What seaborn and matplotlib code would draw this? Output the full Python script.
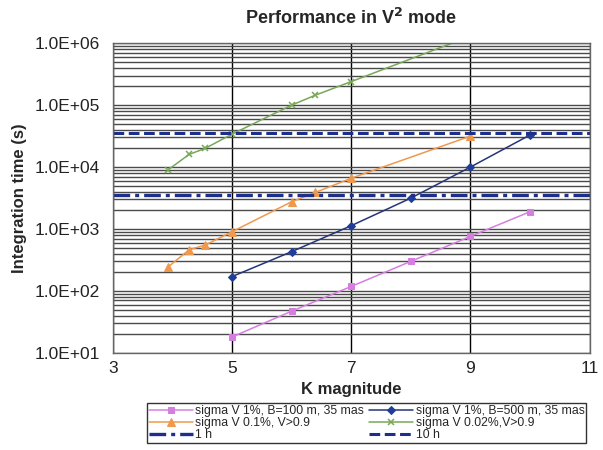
import numpy as np
import pandas as pd
import seaborn as sns
import matplotlib.pyplot as plt
from matplotlib.ticker import FuncFormatter, LogLocator, FixedLocator

# Data
k_pink = [5, 6, 7, 8, 9, 10]
t_pink = [18, 47, 118, 300, 760, 1900]

k_blue = [5, 6, 7, 8, 9, 10]
t_blue = [170, 430, 1130, 3150, 10000, 33000]

k_orange = [3.92, 4.28, 4.55, 5, 6, 6.4, 7, 9]
t_orange = [240, 460, 550, 900, 2750, 3900, 6600, 31600]

k_green = [3.92, 4.28, 4.55, 5, 6, 6.4, 7, 9]
t_green = [8900, 16000, 20000, 34000, 100000, 145000, 240000, 1300000]

t_1h = 3600
t_10h = 36000

labels = ['sigma V 1%, B=100 m, 35 mas', 'sigma V 1%, B=500 m, 35 mas',
          'sigma V 0.1%, V>0.9', 'sigma V 0.02%,V>0.9', '1 h', '10 h']

sns.set_style('white')
plt.rcParams['font.family'] = ['Liberation Sans', 'DejaVu Sans']

fig = plt.figure(figsize=(6.03, 4.5), dpi=100)
ax = fig.add_axes([0.187, 0.216, 0.791, 0.688])

navy = '#1d2f8a'
pink, blue, orange, green = '#d67ee0', '#1f3d9c', '#f0984c', '#77a857'

# seaborn puts white edges on markers by default, so set them explicitly
sns.lineplot(x=k_pink, y=t_pink, ax=ax, color=pink, marker='s', markersize=5,
             markeredgecolor=pink, linewidth=1.1, label=labels[0])
sns.lineplot(x=k_blue, y=t_blue, ax=ax, color='#24357a', marker='D', markersize=4.5,
             markerfacecolor=blue, markeredgecolor=blue, linewidth=1.1, label=labels[1])
sns.lineplot(x=k_orange, y=t_orange, ax=ax, color=orange, marker='^', markersize=5.5,
             markeredgecolor=orange, linewidth=1.1, label=labels[2])
sns.lineplot(x=k_green, y=t_green, ax=ax, color=green, marker='x', markersize=5,
             markeredgecolor=green, markeredgewidth=1.1, linewidth=1.1, label=labels[3])
ax.axhline(t_1h, color=navy, linestyle=(0, (5, 1.5, 1.2, 1.5)), linewidth=2.4, label=labels[4])
ax.axhline(t_10h, color=navy, linestyle=(0, (3.5, 1.5)), linewidth=2.2, label=labels[5])

ax.set_yscale('log')
ax.set_xlim(3, 11)
ax.set_ylim(10, 1e6)
ax.xaxis.set_major_locator(FixedLocator([3, 5, 7, 9, 11]))
ax.yaxis.set_major_locator(LogLocator(base=10, numticks=10))
ax.yaxis.set_minor_locator(LogLocator(base=10, subs=np.arange(2, 10), numticks=20))
ax.yaxis.set_major_formatter(FuncFormatter(lambda v, p: f'{v:.1E}'))
ax.yaxis.set_minor_formatter(FuncFormatter(lambda v, p: ''))

ax.grid(True, which='major', axis='x', color='black', linewidth=1.0)
ax.grid(True, which='both', axis='y', color='#4a4a4a', linewidth=1.0)
ax.set_axisbelow(True)
for s in ax.spines.values():
    s.set_color('#666666')
    s.set_linewidth(1.0)
ax.tick_params(axis='both', which='both', length=0, labelsize=12.5, colors='#222222')
ax.tick_params(axis='y', pad=9)
ax.tick_params(axis='x', pad=6)

ax.set_title('Performance in V$^\\mathbf{2}$ mode', fontsize=13, fontweight='bold', pad=14)
ax.set_xlabel('K magnitude', fontsize=12, fontweight='bold', labelpad=4)
ax.set_ylabel('Integration time (s)', fontsize=12, fontweight='bold', labelpad=6)

handles, labs = ax.get_legend_handles_labels()
ax.get_legend().remove()
order = [0, 2, 4, 1, 3, 5]
fig.legend([handles[i] for i in order], [labs[i] for i in order], ncol=2,
           loc='upper left', bbox_to_anchor=(0.244, 0.104), fontsize=8.8,
           frameon=True, fancybox=False, edgecolor='#333333', framealpha=1,
           handlelength=3.6, handletextpad=0.2, labelspacing=0.0,
           columnspacing=0.4, borderpad=0.15, borderaxespad=0)

fig.savefig('out.png', dpi=100)
